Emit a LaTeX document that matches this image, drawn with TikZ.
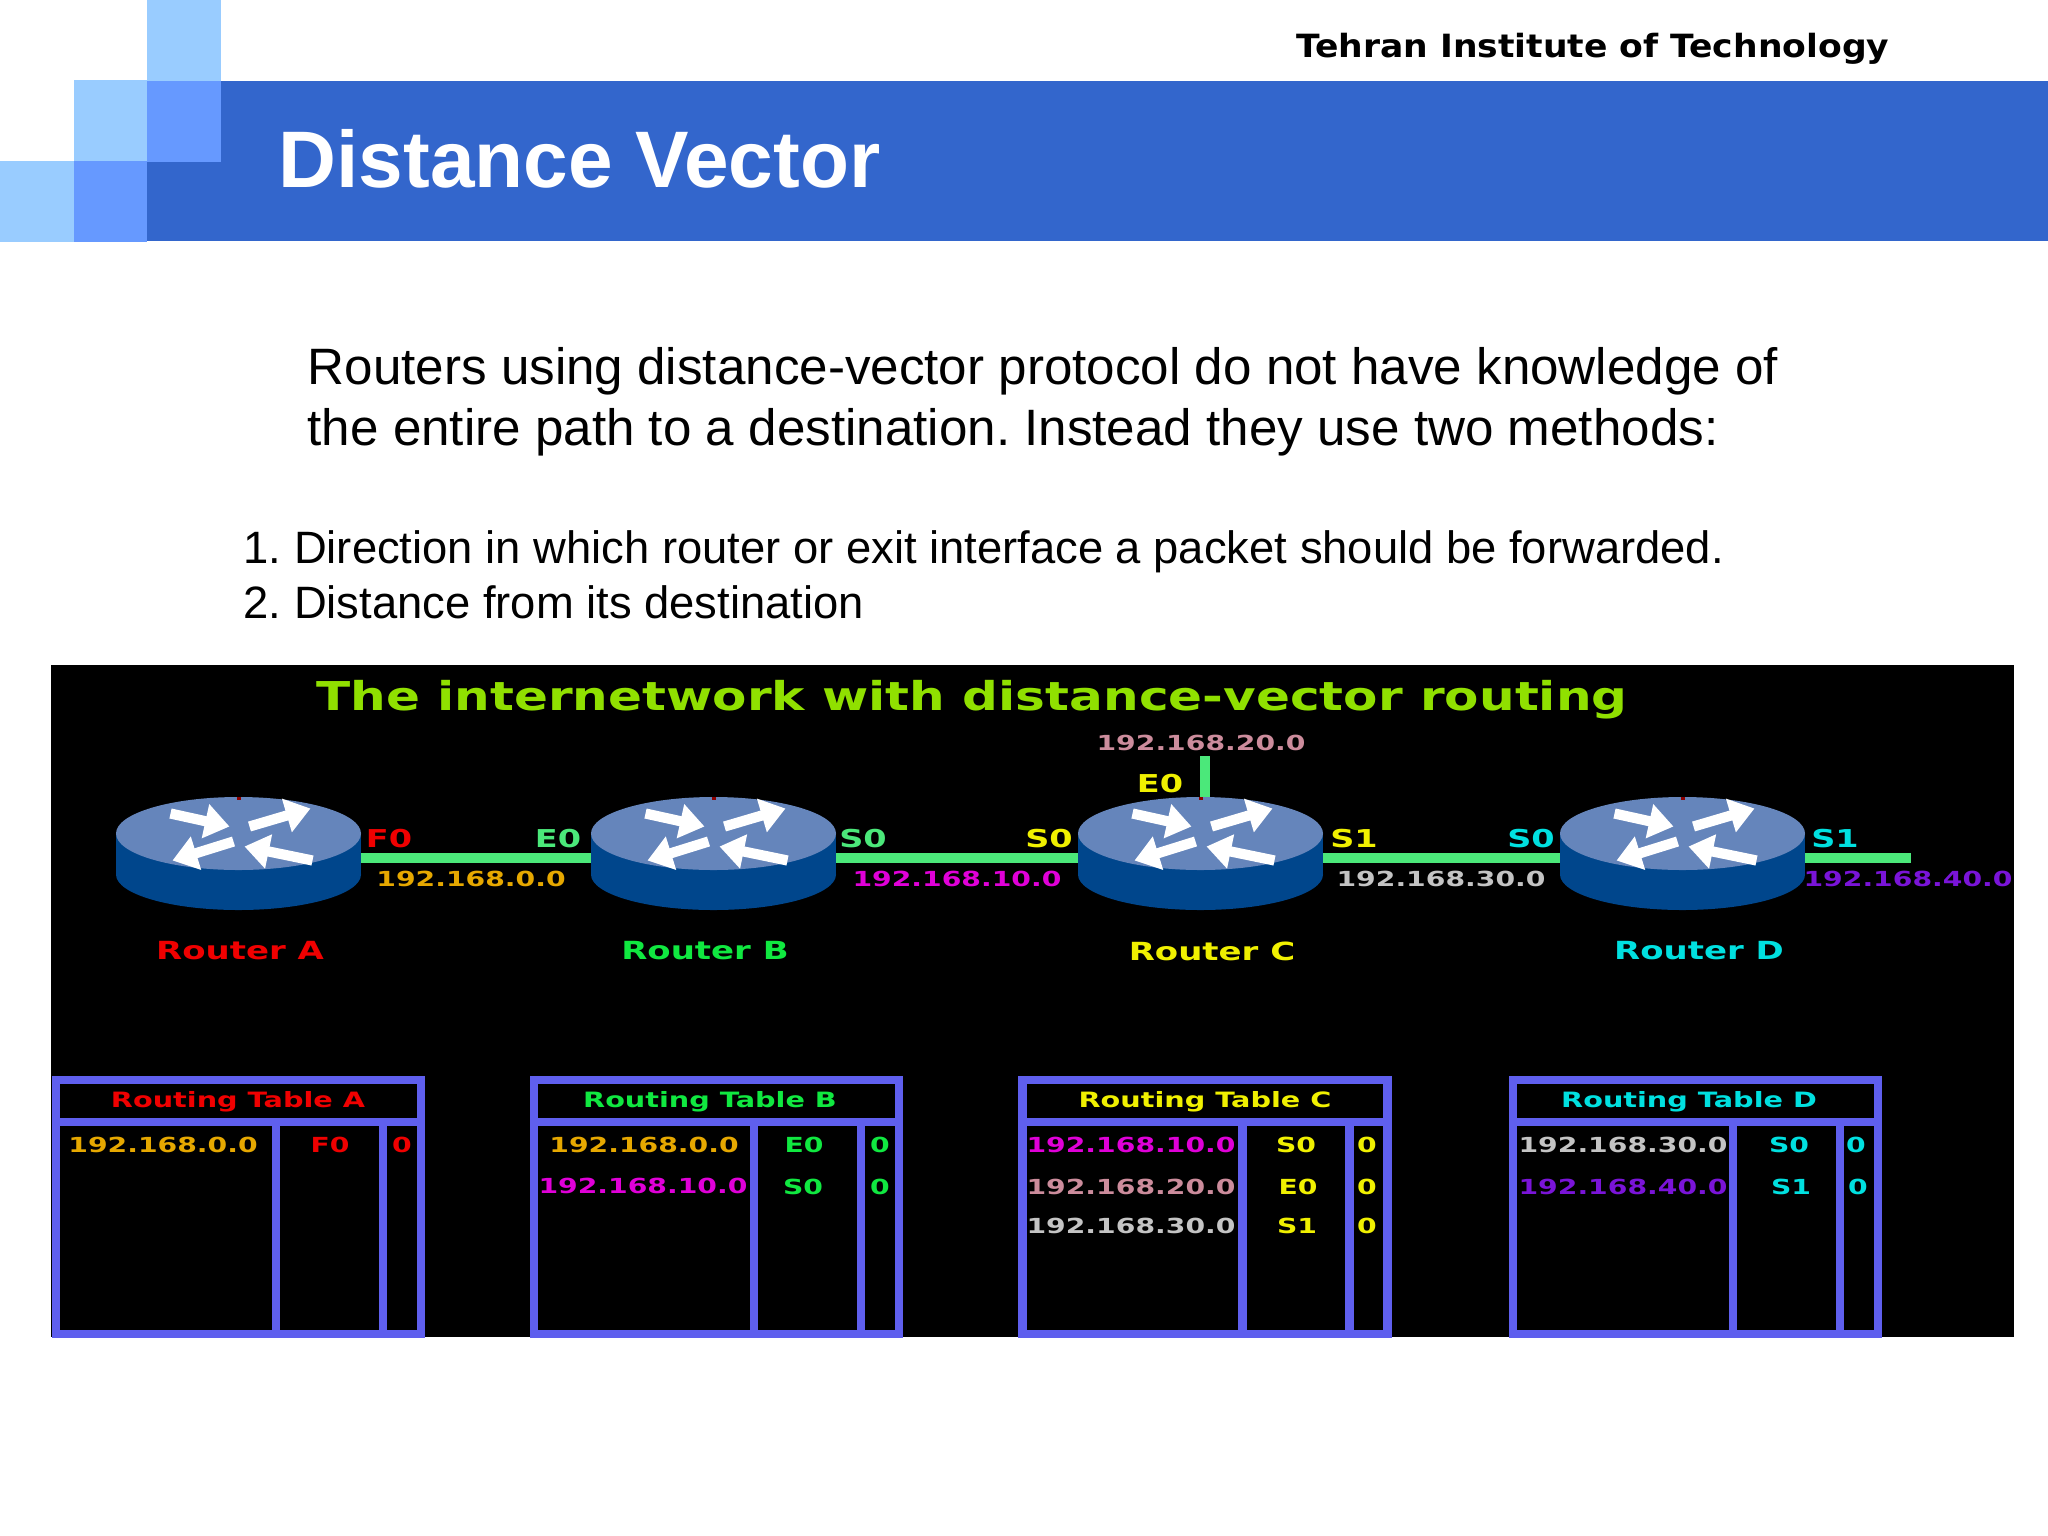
\documentclass[tikz,border=0pt]{standalone}
\usepackage{fontspec}
\setmainfont{Liberation Sans}
\newfontfamily\headfont[FakeStretch=1.08]{DejaVu Sans}
\newfontfamily\netfont[FakeStretch=1.36]{DejaVu Sans}
\newfontfamily\bannerfont[FakeStretch=1.26]{DejaVu Sans}
\usetikzlibrary{arrows.meta}
\definecolor{barblue}{HTML}{3366CC}
\definecolor{midblue}{HTML}{6699FF}
\definecolor{paleblue}{HTML}{99CCFF}
\definecolor{linkgreen}{HTML}{4BE87A}
\definecolor{tableblue}{HTML}{5F5FEE}
\definecolor{routertop}{HTML}{6585BB}
\definecolor{routerbody}{HTML}{00468C}
\definecolor{netorange}{HTML}{E6A800}
\definecolor{netmagenta}{HTML}{E000D8}
\definecolor{netgray}{HTML}{C4C4C4}
\definecolor{netpink}{HTML}{CC8C9C}
\definecolor{netpurple}{HTML}{7A14D8}
\definecolor{netred}{HTML}{F00000}
\definecolor{netgreen}{HTML}{10E840}
\definecolor{netyellow}{HTML}{F0F000}
\definecolor{netcyan}{HTML}{00E0E0}
\definecolor{bannergreen}{HTML}{90E000}
\tikzset{
  routericon/.pic={
    \fill[routerbody] (-122.5,-24.5) rectangle (122.5,16.5);
    \fill[routerbody] (0,16.5) ellipse [x radius=122.5, y radius=35.5];
    \fill[routertop] (0,-24.5) ellipse [x radius=122.5, y radius=36.5];
    \fill[red!55!black] (-2,-61) rectangle (2,-58);
    \draw[routerarrow] (-68,-44.5) -- (-9,-31.5);
    \draw[routerarrow] (11,-31.5) -- (72,-49.5);
    \draw[routerarrow] (-5,-16.5) -- (-66,2.5);
    \draw[routerarrow] (74,2.5) -- (6,-11.5);
  },
  routerarrow/.style={white, line width=2.9pt, -{Triangle[length=7pt, width=9.5pt]}},
  routernode/.style={minimum width=2.44cm, minimum height=1.2cm, inner sep=0pt},
  link/.style={linkgreen, line width=2.7pt},
  tableline/.style={tableblue, line width=2.5pt},
  iflabel/.style={font=\netfont\bfseries\fontsize{7}{8}\selectfont, inner sep=0pt},
  netlabel/.style={font=\netfont\bfseries\fontsize{5.9}{7}\selectfont, inner sep=0pt},
  routerlabel/.style={font=\netfont\bfseries\fontsize{7.1}{8}\selectfont, inner sep=0pt},
  tabletitle/.style={font=\netfont\bfseries\fontsize{6}{7}\selectfont, inner sep=0pt},
  body/.style={anchor=base west, inner sep=0pt}
}
\begin{document}
\frenchspacing
\begin{tikzpicture}[x=0.01cm, y=-0.01cm]
  \useasboundingbox (0,0) rectangle (2048,1536);

  \fill[white] (0,0) rectangle (2048,1536);
  \fill[barblue] (220,81) rectangle (2048,161);
  \fill[barblue] (147,161) rectangle (2048,241);
  \fill[paleblue] (147,0) rectangle (221,81);
  \fill[paleblue] (74,80) rectangle (147,161);
  \fill[midblue] (147,81) rectangle (221,162);
  \fill[paleblue] (0,161) rectangle (74,242);
  \fill[midblue] (74,161) rectangle (147,242);

  \node[anchor=base east, inner sep=0pt, font=\headfont\bfseries\fontsize{9.1}{11}\selectfont] (school) at (1890,57) {Tehran Institute of Technology};
  \node[body, text=white, font=\bfseries\fontsize{22.8}{26}\selectfont] (heading) at (278,187) {Distance Vector};

  \node[body, font=\fontsize{14.55}{17}\selectfont] (introA) at (307,384) {Routers using distance-vector protocol do not have knowledge of};
  \node[body, font=\fontsize{14.55}{17}\selectfont] (introB) at (307,445) {the entire path to a destination. Instead they use two methods:};
  \node[body, font=\fontsize{12.9}{15}\selectfont] (methodA) at (243,563) {1. Direction in which router or exit interface a packet should be forwarded.};
  \node[body, font=\fontsize{12.9}{15}\selectfont] (methodB) at (243,618) {2. Distance from its destination};

  \fill[black] (51,665) rectangle (2014,1337);
  \node[text=bannergreen, inner sep=0pt, font=\bannerfont\bfseries\fontsize{11.3}{13}\selectfont] (banner) at (972,700) {The internetwork with distance-vector routing};

  \foreach \name/\cx in {A/238.5,B/713.5,C/1200.5,D/1682.5}
    \node[routernode] (\name) at (\cx,858) {};
  \coordinate (lanC) at (1205,756);
  \coordinate (lanD) at (1911,858);
  \draw[link] (A) -- (B);
  \draw[link] (B) -- (C);
  \draw[link] (C) -- (D);
  \draw[link] (D) -- (lanD);
  \draw[link] (lanC) -- (lanC |- C.north);
  \foreach \name in {A,B,C,D}
    \pic at (\name) {routericon};

  \node[netlabel, text=netpink] (netC) at (1201,743) {192.168.20.0};
  \node[iflabel, text=netyellow] (ifCe) at (1160,784) {E0};
  \node[iflabel, text=netred] (ifAf) at (389,838.5) {F0};
  \node[iflabel, text=linkgreen] (ifBe) at (558,838.5) {E0};
  \node[iflabel, text=linkgreen] (ifBs) at (863,838.5) {S0};
  \node[iflabel, text=netyellow] (ifCs) at (1049,838.5) {S0};
  \node[iflabel, text=netyellow] (ifCt) at (1354,838.5) {S1};
  \node[iflabel, text=netcyan] (ifDs) at (1531,838.5) {S0};
  \node[iflabel, text=netcyan] (ifDt) at (1835,838.5) {S1};
  \node[netlabel, text=netorange] (netAB) at (471,878.5) {192.168.0.0};
  \node[netlabel, text=netmagenta] (netBC) at (957,878.5) {192.168.10.0};
  \node[netlabel, text=netgray] (netCD) at (1441,878.5) {192.168.30.0};
  \node[netlabel, text=netpurple] (netD) at (1908,878.5) {192.168.40.0};
  \node[routerlabel, text=netred] (nameA) at (240,951) {Router A};
  \node[routerlabel, text=netgreen] (nameB) at (705,951) {Router B};
  \node[routerlabel, text=netyellow] (nameC) at (1212,951) {Router C};
  \node[routerlabel, text=netcyan] (nameD) at (1699,951) {Router D};

  \foreach \tx in {56,534,1022.5,1513} {
    \draw[tableline] (\tx,1080) rectangle ++(365,254);
    \draw[tableline] (\tx,1122) -- ++(365,0);
    \draw[tableline] (\tx+220,1122) -- ++(0,212);
    \draw[tableline] (\tx+327,1122) -- ++(0,212);
  }

  \node[tabletitle, text=netred] (titleA) at (238,1101.5) {Routing Table A};
  \node[netlabel, text=netorange] (rowAa) at (163,1145) {192.168.0.0};
  \node[netlabel, text=netred] (rowAb) at (330,1145) {F0};
  \node[netlabel, text=netred] (rowAc) at (402,1145) {0};

  \node[tabletitle, text=netgreen] (titleB) at (710,1101.5) {Routing Table B};
  \node[netlabel, text=netorange] (rowBa) at (644,1145) {192.168.0.0};
  \node[netlabel, text=netgreen] (rowBb) at (804,1145) {E0};
  \node[netlabel, text=netgreen] (rowBc) at (880,1145) {0};
  \node[netlabel, text=netmagenta] (rowBd) at (643,1186) {192.168.10.0};
  \node[netlabel, text=netgreen] (rowBe) at (803,1187) {S0};
  \node[netlabel, text=netgreen] (rowBf) at (880,1187) {0};

  \node[tabletitle, text=netyellow] (titleC) at (1205,1101.5) {Routing Table C};
  \node[netlabel, text=netmagenta] (rowCa) at (1131,1145) {192.168.10.0};
  \node[netlabel, text=netyellow] (rowCb) at (1296,1145) {S0};
  \node[netlabel, text=netyellow] (rowCc) at (1367,1145) {0};
  \node[netlabel, text=netpink] (rowCd) at (1131,1187) {192.168.20.0};
  \node[netlabel, text=netyellow] (rowCe) at (1298,1187) {E0};
  \node[netlabel, text=netyellow] (rowCf) at (1367,1187) {0};
  \node[netlabel, text=netgray] (rowCg) at (1131,1226) {192.168.30.0};
  \node[netlabel, text=netyellow] (rowCh) at (1297,1226) {S1};
  \node[netlabel, text=netyellow] (rowCi) at (1367,1226) {0};

  \node[tabletitle, text=netcyan] (titleD) at (1689,1101.5) {Routing Table D};
  \node[netlabel, text=netgray] (rowDa) at (1623,1145) {192.168.30.0};
  \node[netlabel, text=netcyan] (rowDb) at (1789,1145) {S0};
  \node[netlabel, text=netcyan] (rowDc) at (1856,1145) {0};
  \node[netlabel, text=netpurple] (rowDd) at (1623,1187) {192.168.40.0};
  \node[netlabel, text=netcyan] (rowDe) at (1791,1187) {S1};
  \node[netlabel, text=netcyan] (rowDf) at (1858,1187) {0};
\end{tikzpicture}
\end{document}
